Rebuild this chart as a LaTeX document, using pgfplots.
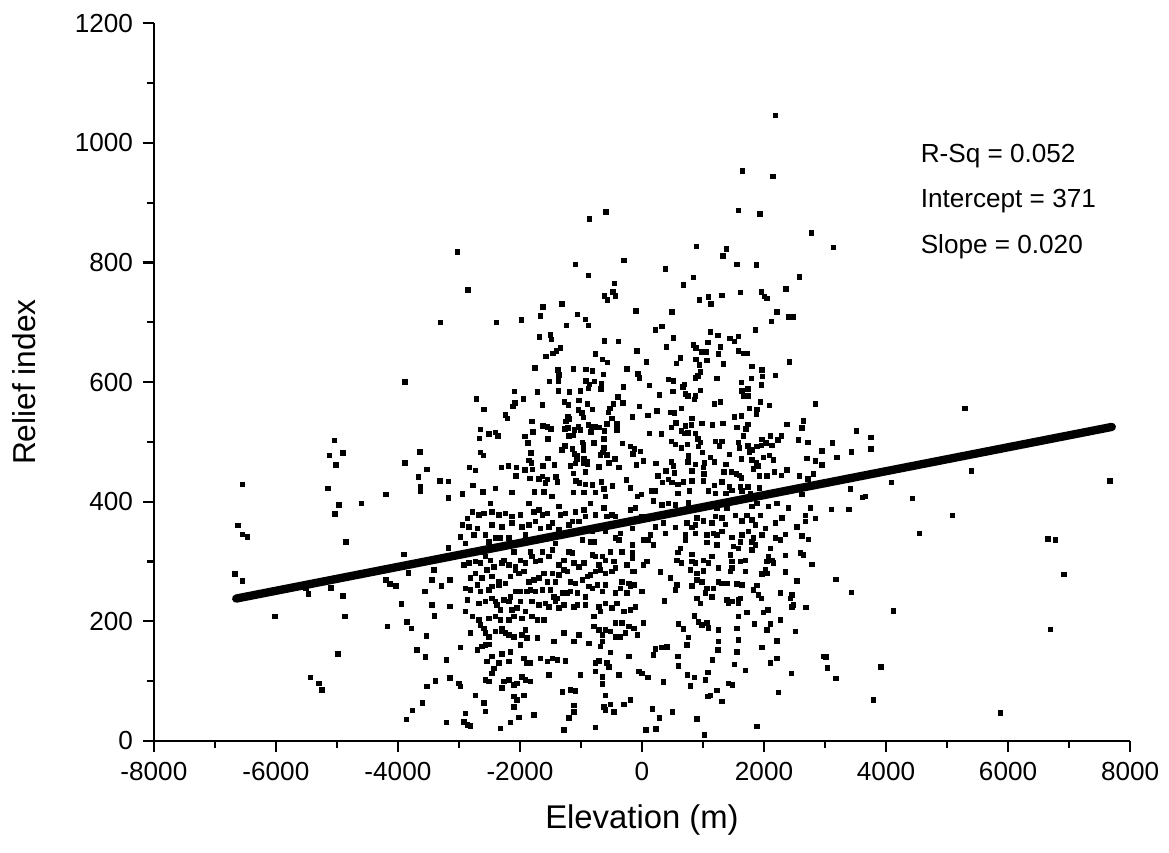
\documentclass[border=0pt]{standalone}
\usepackage{pgfplots}
\pgfplotsset{compat=1.18}
\usepackage{fontspec}
\setmainfont{Liberation Sans}
\begin{document}
\begin{tikzpicture}
\begin{axis}[
  scale only axis,
  width=351pt, height=258pt,
  xmin=-8000, xmax=8000, ymin=0, ymax=1200,
  axis x line=bottom, axis y line=left,
  axis line style={line width=0.75pt, -},
  xtick={-8000,-6000,...,8000},
  ytick={0,200,...,1200},
  minor x tick num=1, minor y tick num=1,
  tick align=outside,
  major tick length=4pt, minor tick length=2.5pt,
  every tick/.style={line width=0.75pt, black},
  /pgf/number format/1000 sep={},
  /pgf/number format/assume math mode=true,
  tick label style={font=\fontsize{9.4}{10}\selectfont},
  xlabel={Elevation (m)}, ylabel={Relief index},
  xlabel style={font=\fontsize{11.8}{13}\selectfont, yshift=-2pt},
  ylabel style={font=\fontsize{11.4}{13}\selectfont, yshift=7pt},
  clip=false,
]
\addplot[only marks, mark=square*, mark size=0.8pt, draw=black, fill=black] table {
x y
-3300 700
-3880 600
-5043 502
-5120 477
-4896 481
-5015 461
-3634 483
-3880 465
-3519 454
-3660 441
-3627 425
-3627 418
-3311 435
-3168 434
-3168 406
-6545 429
-5146 422
-4966 394
-5027 379
-4600 397
-4196 412
-6617 360
-6545 345
-6469 341
-4851 333
-3168 323
-3901 312
-6671 279
-6545 267
-3824 281
-3409 286
-4196 269
-4130 262
-4032 259
-3437 269
-3289 259
-3150 269
-5507 255
-5463 246
-5097 256
-4896 242
-3552 250
-3945 229
-3437 227
-3404 209
-3150 225
-6015 208
-4863 208
-4168 191
-3852 199
-3781 188
-3529 175
-3688 152
-3545 140
-3207 135
-4983 145
-5436 106
-5289 96
-5240 85
-3382 100
-3519 91
-3150 105
-3596 63
-3758 51
-3863 36
-3207 31
-1088 797
-880 778
-454 765
-476 751
-612 744
-563 737
-432 744
-2847 754
-99 719
-1618 726
-1312 731
-1661 711
-1055 713
-924 705
-880 695
-1235 695
-2383 700
-1978 704
-1683 675
-1497 679
-1481 671
-612 669
-388 668
-82 652
-1339 657
-1404 652
-1454 648
-1574 643
-760 647
-645 638
-563 633
-1749 624
-1372 620
-1361 612
-1366 602
-1120 622
-913 621
-814 619
-634 613
-241 622
-66 614
-44 607
-1514 601
-913 602
-776 601
-858 596
-667 598
-880 589
-672 588
-301 592
-2088 584
-1716 583
-1366 585
-1191 583
-1011 585
-2710 572
-1940 572
-2082 565
-2115 559
-2590 554
-1634 562
-1273 567
-1202 562
-1033 569
-896 563
-814 554
-394 575
-312 565
-470 563
-525 556
-547 549
-38 559
-1044 553
-984 548
-957 541
-2235 545
-2202 539
-1208 542
-1191 538
-1241 534
-1803 534
-492 539
-410 530
-569 530
-159 542
-2650 521
-2508 513
-2399 516
-2361 510
-2661 506
-1623 527
-1552 525
-1487 522
-1262 522
-1208 523
-1038 525
-1011 520
-1104 520
-880 528
-825 525
-771 525
-831 517
-705 524
-612 518
-410 520
-1913 509
-1782 517
-1541 505
-1197 510
-1126 511
-973 499
-787 498
-623 505
-1864 498
-1262 493
-1312 486
-1142 488
-962 496
-962 486
-317 497
-191 492
-120 488
-148 480
-22 484
-2645 482
-2596 477
-1820 481
-1109 480
-1060 477
-1066 471
-951 471
-896 467
-946 464
-678 478
-640 482
-569 478
-623 490
-1853 469
-1814 465
-1536 472
-1623 460
-1432 461
-1170 460
-1088 464
-896 462
-700 458
-541 465
-377 457
-443 471
-93 461
-2825 457
-2727 452
-2306 457
-2186 460
-2060 457
-2066 443
-1913 453
-1793 454
-1831 439
-1689 438
-1634 442
-1552 437
-1579 431
-1410 441
-1388 433
-1126 447
-924 450
-1082 435
-1027 431
-924 429
-814 428
-661 433
-481 426
-252 436
-186 423
-623 421
-2771 427
-2945 413
-2607 416
-2399 422
-2126 415
-1765 416
-1607 416
-1476 409
-1120 415
-946 415
-760 415
-596 409
-77 409
-6 412
-2481 397
-2781 383
-2863 372
-2672 378
-2590 380
-2454 383
-2344 378
-2235 380
-2126 375
-1989 378
-1853 397
-1771 383
-1689 386
-1634 378
-1552 380
-1361 392
-1334 378
-1252 380
-1088 383
-951 386
-924 375
-842 397
-760 378
-623 389
-569 375
-487 378
-432 375
-186 386
-104 389
-22 369
-2945 361
-2836 358
-2699 355
-2754 344
-2454 361
-2290 358
-2126 364
-1962 358
-1853 361
-1743 367
-1661 355
-1525 358
-1470 364
-1361 353
-1197 361
-1142 367
-1033 367
-978 353
-814 350
-596 350
-432 339
-350 347
-159 355
-2973 341
-2891 330
-2563 344
-2508 333
-2399 339
-2317 339
-2180 339
-1907 344
-1415 330
-978 336
-842 333
-787 333
-377 336
-159 328
-2918 294
-2836 297
-2727 300
-2645 297
-2590 316
-2563 308
-2481 302
-2426 291
-2290 297
-2262 302
-2180 294
-2098 316
-2071 291
-1989 302
-1907 297
-1825 316
-1798 308
-1743 300
-1661 302
-1634 316
-1525 308
-1470 319
-1361 294
-1279 302
-1197 316
-1142 314
-1115 297
-1033 291
-951 297
-814 311
-760 308
-705 294
-650 308
-596 302
-514 316
-459 300
-323 316
-241 294
-159 314
-159 305
-159 283
-2809 272
-2727 280
-2618 272
-2536 286
-2454 275
-2344 266
-2235 263
-2153 275
-2071 286
-2016 280
-1935 283
-1853 266
-1771 269
-1689 272
-1607 280
-1552 266
-1470 280
-1415 266
-1361 277
-1279 286
-1224 283
-1170 266
-1088 263
-978 269
-896 275
-842 277
-760 283
-678 286
-596 280
-487 283
-432 289
-323 266
-213 263
-131 283
-2891 255
-2809 252
-2699 261
-2645 250
-2508 252
-2454 258
-2344 261
-2262 236
-2153 241
-2071 250
-1989 250
-1880 250
-1825 252
-1743 250
-1634 252
-1497 252
-1443 241
-1388 238
-1306 247
-1224 247
-1170 250
-1060 247
-924 241
-869 258
-814 255
-732 261
-650 250
-596 261
-432 247
-350 255
-241 247
-186 258
-131 261
-2863 236
-2672 230
-2563 233
-2454 238
-2399 233
-2372 227
-2317 219
-2180 233
-2126 219
-2044 222
-1989 233
-1907 216
-1798 233
-1689 227
-1579 230
-1525 224
-1415 233
-1361 222
-1279 227
-1115 224
-1060 227
-924 227
-705 224
-596 230
-487 222
-405 230
-295 216
-186 219
-104 224
-2891 216
-2781 208
-2672 202
-2645 194
-2590 188
-2563 180
-2508 205
-2399 208
-2317 202
-2290 188
-2180 202
-2098 208
-1962 205
-1907 185
-1798 208
-1716 202
-1607 202
-787 208
-678 216
-432 197
-323 197
-213 191
-131 188
-2809 180
-2508 174
-2399 183
-2290 183
-2235 180
-2180 177
-2098 174
-1962 177
-1880 172
-1716 172
-1443 166
-1279 180
-1115 166
-1033 177
-869 163
-787 191
-705 185
-650 177
-650 166
-596 185
-514 183
-432 174
-350 174
-268 180
-77 177
-2973 156
-2699 152
-2618 158
-2563 160
-2508 161
-2290 145
-2153 149
-1989 160
-678 158
-514 148
-2536 133
-2454 141
-2426 121
-2344 130
-2180 133
-1935 138
-1880 130
-1825 130
-1661 138
-1552 133
-1470 138
-1388 135
-1252 134
-760 130
-705 134
-569 130
-541 124
-213 141
-49 116
-2454 113
-2262 99
-2180 102
-2098 93
-2044 96
-1962 107
-1907 102
-1825 99
-1525 110
-1006 110
-760 116
-650 107
-377 110
-2563 102
-2508 99
-2290 88
-3000 96
-2973 91
-650 95
-2727 76
-2098 74
-2044 68
-1935 76
-1306 82
-1170 85
-1088 83
-596 76
-514 61
-295 61
-186 68
-2891 46
-2590 63
-2563 49
-2098 57
-1771 43
-1115 59
-1115 48
-623 57
-596 52
-459 48
-2918 32
-2863 27
-2809 25
-2153 31
-2016 39
-1197 38
-2317 21
-1279 18
-760 22
382 789
847 775
683 762
1557 797
1874 796
2579 776
2360 756
1612 750
1311 745
1093 742
940 737
1131 731
1956 751
2011 743
2049 740
492 717
2213 717
2404 709
2486 709
2120 701
219 687
328 693
519 674
1120 684
1246 678
1443 673
1514 668
1585 676
1858 687
847 662
885 657
1082 666
1284 659
984 650
1049 650
1257 647
1585 652
1667 648
1721 648
399 659
76 634
628 640
563 631
885 638
945 629
1065 636
1339 630
1803 626
2415 634
1967 620
1978 609
956 617
918 610
874 607
437 604
519 602
1229 606
1628 599
1792 606
2186 611
120 594
508 584
672 592
699 596
710 580
754 577
874 577
858 571
962 586
1639 585
1738 588
1667 577
1738 577
1956 595
284 578
1284 567
1191 563
1940 567
2093 561
2841 563
246 552
98 544
464 549
535 548
645 556
820 539
1759 556
1885 554
1874 546
1519 542
1628 543
557 532
710 527
481 524
809 528
984 531
1158 528
1328 531
1557 524
1738 529
1705 522
2377 529
2645 535
2623 523
120 514
317 513
645 518
699 514
754 515
874 514
918 505
1667 510
1967 504
2104 510
2284 510
2229 503
2568 503
2721 499
481 501
546 496
645 490
743 496
962 499
929 492
1202 501
1311 501
1268 493
1585 499
1596 490
1738 493
1803 486
1885 492
1956 494
2033 498
2131 494
1765 483
2951 485
27 468
229 464
765 476
754 466
874 462
994 482
1120 474
1027 465
1191 466
1432 479
1628 471
1803 470
1874 465
1912 460
1994 474
2087 477
2158 470
2705 472
2841 468
2951 461
481 466
519 460
535 448
393 451
820 451
1005 457
1016 446
1377 462
1344 450
1464 450
1546 446
1596 444
1628 440
1830 455
1923 443
2049 443
2175 450
2284 444
2377 453
2579 443
2721 438
2814 446
262 443
339 432
437 437
492 432
590 429
683 433
820 435
1011 435
1191 427
1311 433
1432 425
1612 425
1738 425
1923 423
153 418
219 418
590 414
776 418
1093 418
1202 414
1377 414
1475 419
1639 418
1776 414
2623 412
191 401
328 394
437 397
546 394
765 398
1229 389
1393 389
1803 392
1885 397
2076 392
2213 397
2404 389
2759 389
2677 377
2841 372
0 375
219 358
382 347
137 344
109 336
27 336
191 328
355 364
546 357
738 364
874 361
902 373
1011 368
1147 364
1202 375
1311 373
1366 362
1530 377
1639 368
1721 377
1803 369
1858 361
1940 377
2295 373
2186 364
2541 358
2677 367
874 347
710 344
1065 344
1175 347
1229 344
1311 350
1475 340
1639 344
1612 333
1748 350
1830 339
1967 344
2022 355
2186 339
2268 336
2350 345
2623 343
2732 337
1065 332
1229 328
710 336
820 357
628 322
590 315
1503 325
1585 322
1803 333
1858 328
1803 319
2104 322
820 312
1147 308
1448 311
574 302
645 297
82 300
27 294
820 300
874 297
1011 302
1093 297
1475 300
1612 300
1694 302
2049 300
2131 302
2158 297
2076 308
2350 310
2595 314
2650 311
2787 295
301 282
464 272
792 286
902 280
1011 284
1257 289
1448 283
1475 289
1694 283
1967 279
2022 286
2049 280
2350 282
0 250
546 252
574 261
820 259
902 269
984 266
1065 255
1175 255
1257 266
1311 263
1393 263
1557 262
1639 261
1830 252
1885 260
1912 244
1956 238
2268 247
2459 244
2432 238
2541 267
956 230
902 238
1038 247
1147 241
1393 236
1421 230
1475 233
1585 236
1612 238
1585 230
2459 224
2486 227
2688 223
372 234
27 197
601 195
683 187
863 209
929 199
984 194
1065 197
1093 189
1257 185
1557 188
1585 208
1721 215
1847 195
1994 215
2065 219
2104 195
2049 185
2268 202
2513 183
765 173
738 160
1257 166
1585 169
1246 152
1557 149
1967 156
2213 167
219 154
191 144
328 156
410 157
590 141
601 125
1158 135
1519 128
1694 118
2104 130
2213 138
2448 113
2978 141
0 113
98 106
355 98
749 110
863 106
1038 102
1082 114
792 92
1421 96
1486 93
2240 81
1229 84
1082 74
1120 76
1311 66
175 53
503 48
284 38
902 37
66 18
229 20
1027 10
1885 24
5294 556
3518 518
3125 498
3753 507
3196 474
3431 483
3753 488
5403 451
7671 435
4087 432
3420 421
3611 407
3666 409
4437 405
3109 387
3393 387
5092 377
4545 347
6654 338
6774 336
6917 278
3180 270
3431 248
4125 217
6692 186
3016 140
3037 122
3180 104
3917 124
3797 68
5879 47
2191 1046
1650 953
2147 944
-857 873
-590 884
1585 887
1934 881
2781 849
3142 825
-3021 818
890 827
1388 823
1328 811
1562 797
1880 795
-1087 797
-295 803
382 789
};
\addplot[black, line width=3pt, line cap=round] coordinates {(-6650,238) (7700,525)};
\node[anchor=west, inner sep=0pt, font=\fontsize{9.4}{10}\selectfont] at (axis cs:4560,978) {R-Sq = 0.052};
\node[anchor=west, inner sep=0pt, font=\fontsize{9.4}{10}\selectfont] at (axis cs:4560,903) {Intercept = 371};
\node[anchor=west, inner sep=0pt, font=\fontsize{9.4}{10}\selectfont] at (axis cs:4560,827) {Slope = 0.020};
\coordinate (bbSW) at (axis cs:-10522,-186);
\coordinate (bbNE) at (axis cs:8638,1239);
\end{axis}
\pgfresetboundingbox
\path[use as bounding box] (bbSW) rectangle (bbNE);
\end{tikzpicture}
\end{document}
